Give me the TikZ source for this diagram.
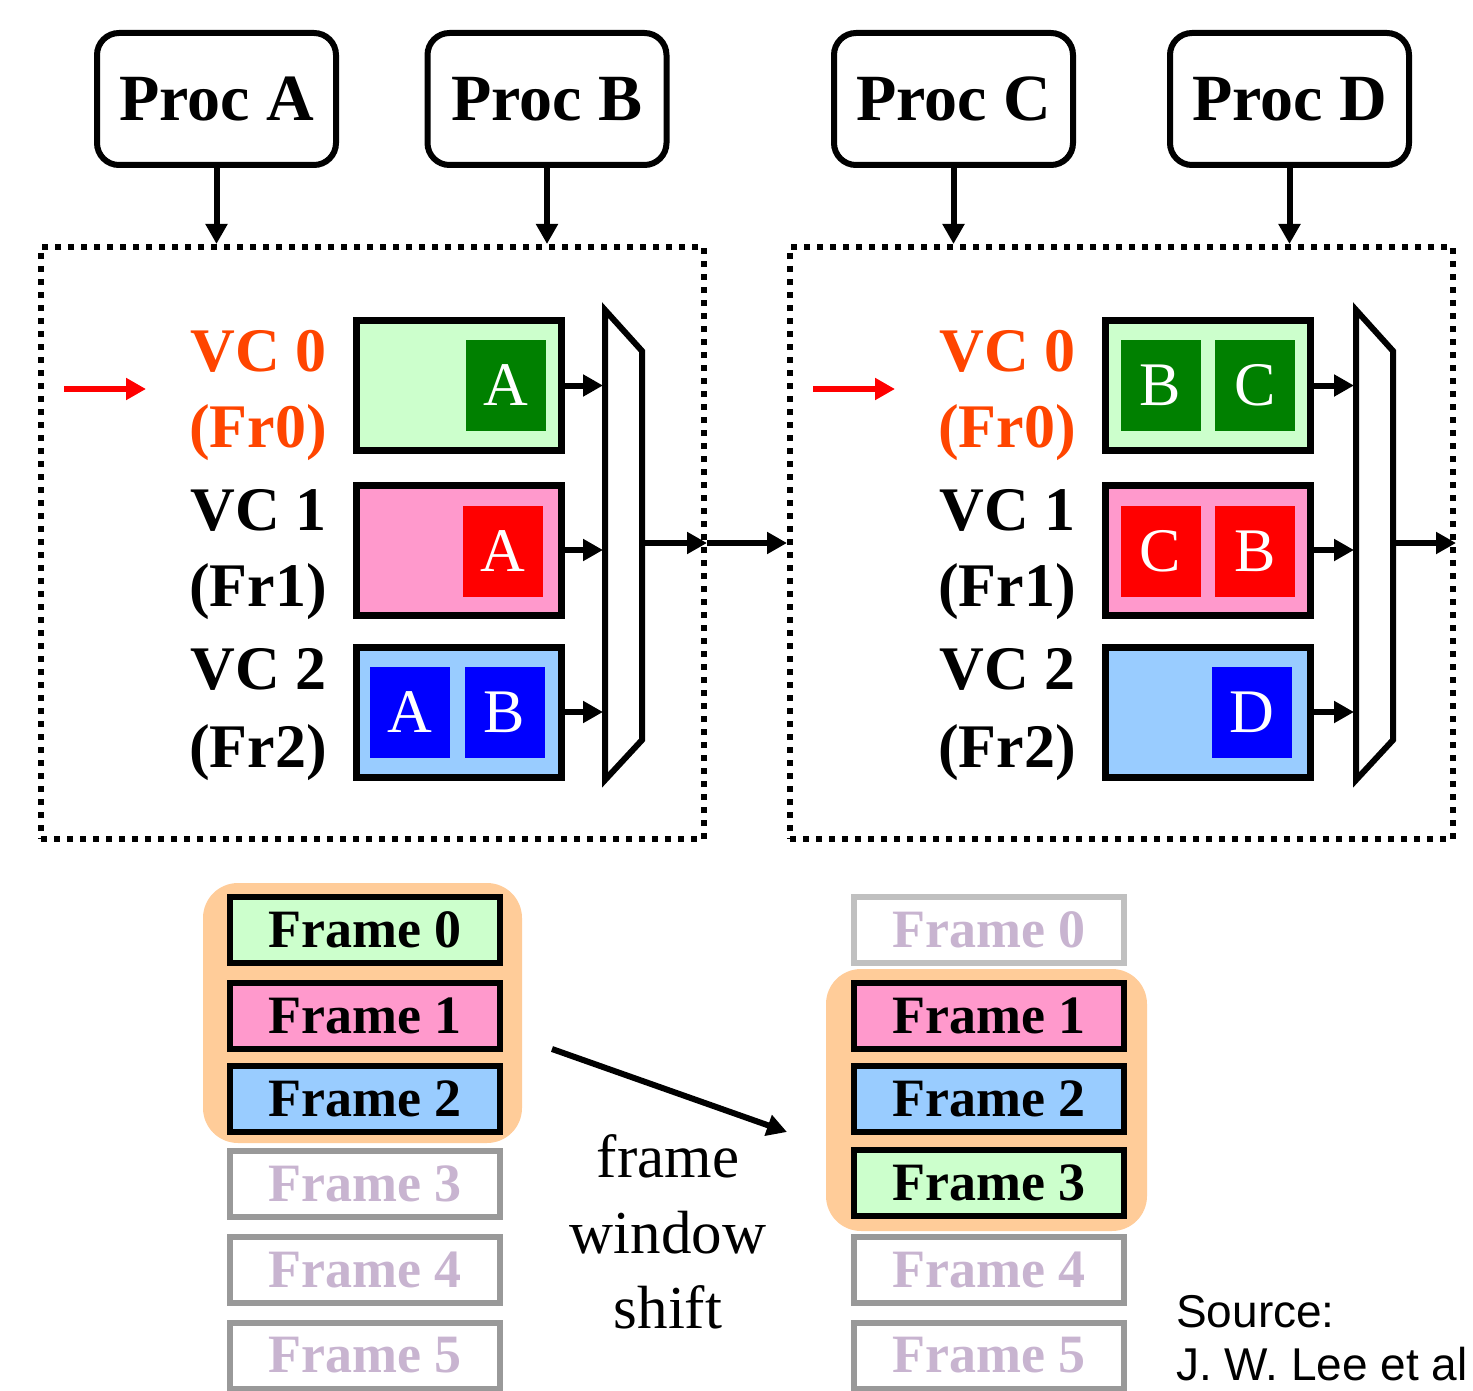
\documentclass[tikz,border=0pt]{standalone}
\usepackage{fontspec}
\setmainfont{Liberation Serif}
\newfontfamily\srcfont{Liberation Sans}
\usetikzlibrary{arrows.meta}
\definecolor{lgreen}{HTML}{CCFFCC}
\definecolor{dgreen}{HTML}{008000}
\definecolor{lpink}{HTML}{FF99CC}
\definecolor{lblue}{HTML}{99CCFF}
\definecolor{vcorange}{HTML}{FF4500}
\definecolor{winorange}{HTML}{FFCC99}
\definecolor{fadegray}{HTML}{999999}
\definecolor{fadegrayl}{HTML}{C0C0C0}
\definecolor{fadetext}{HTML}{C8B4D0}
\begin{document}
\begin{tikzpicture}[x=1pt,y=-1pt,
 proc/.style={draw, line width=6pt, rounded corners=22pt, minimum width=239pt, minimum height=132pt, font=\fontsize{66}{70}\selectfont\bfseries, inner sep=0pt},
 panel/.style={draw, line width=6pt, dash pattern=on 6pt off 7pt, minimum width=663pt, minimum height=592pt, inner sep=0pt},
 buf/.style={draw, line width=7pt, minimum width=205pt, minimum height=130pt, inner sep=0pt},
 cell/.style={minimum width=80pt, minimum height=91pt, inner sep=0pt, text=white, font=\fontsize{62}{62}\selectfont},
 vclab/.style={anchor=base east, inner sep=0pt, font=\fontsize{62}{62}\selectfont\bfseries},
 arr/.style={line width=6pt, -{Triangle[length=20pt,width=21pt]}},
 redarr/.style={line width=6pt, red, -{Triangle[length=20pt,width=21pt]}},
 frm/.style={draw, line width=6pt, minimum width=270pt, minimum height=66pt, inner sep=0pt, font=\fontsize{54}{54}\selectfont\bfseries},
 frmfade/.style={frm, draw=fadegray, line width=6pt, fill=white, text=fadetext},
 win/.style={fill=winorange, rounded corners=35pt},
 mux/.style={draw, line width=6pt, fill=white, line join=miter},
 fws/.style={anchor=base, inner sep=0pt, font=\fontsize{61}{61}\selectfont},
 src/.style={anchor=base west, inner sep=0pt, font=\srcfont\fontsize{46}{46}\selectfont}
]
\clip (0,0) rectangle (1473,1391);
\fill[white] (0,0) rectangle (1473,1391);

% processors
\node[proc] (pA) at (216.5,99) {Proc A};
\node[proc] (pB) at (547,99) {Proc B};
\node[proc] (pC) at (953.5,99) {Proc C};
\node[proc] (pD) at (1289.5,99) {Proc D};

% panels
\node[panel] (lp) at (372.5,543) {};
\node[panel] (rp) at (1121.5,543) {};

\draw[arr] (pA.south) -- (pA.south |- lp.north);
\draw[arr] (pB.south) -- (pB.south |- lp.north);
\draw[arr] (pC.south) -- (pC.south |- rp.north);
\draw[arr] (pD.south) -- (pD.south |- rp.north);

% left router buffers
\node[buf, fill=lgreen] (l0) at (459,385.5) {};
\node[buf, fill=lpink] (l1) at (459,550) {};
\node[buf, fill=lblue] (l2) at (459,712) {};
\node[cell, fill=dgreen] (l0a) at (506,385) {A};
\node[cell, fill=red] (l1a) at (502.5,551.5) {A};
\node[cell, fill=blue] (l2a) at (410,712.5) {A};
\node[cell, fill=blue] (l2b) at (504.5,712.5) {B};

% right router buffers
\node[buf, fill=lgreen] (r0) at (1207.5,385.5) {};
\node[buf, fill=lpink] (r1) at (1207.5,550) {};
\node[buf, fill=lblue] (r2) at (1207.5,712) {};
\node[cell, fill=dgreen] (r0b) at (1160.5,385) {B};
\node[cell, fill=dgreen] (r0c) at (1255,385) {C};
\node[cell, fill=red] (r1c) at (1160.5,551.5) {C};
\node[cell, fill=red] (r1b) at (1255,551.5) {B};
\node[cell, fill=blue] (r2d) at (1251.5,712.5) {D};

% VC labels
\node[vclab, text=vcorange] (lv0) at (327,371) {VC 0};
\node[vclab, text=vcorange] (lf0) at (327,447) {(Fr0)};
\node[vclab] (lv1) at (327,530) {VC 1};
\node[vclab] (lf1) at (327,606) {(Fr1)};
\node[vclab] (lv2) at (327,689) {VC 2};
\node[vclab] (lf2) at (327,767) {(Fr2)};
\node[vclab, text=vcorange] (rv0) at (1076,371) {VC 0};
\node[vclab, text=vcorange] (rf0) at (1076,447) {(Fr0)};
\node[vclab] (rv1) at (1076,530) {VC 1};
\node[vclab] (rf1) at (1076,606) {(Fr1)};
\node[vclab] (rv2) at (1076,689) {VC 2};
\node[vclab] (rf2) at (1076,767) {(Fr2)};

% muxes
\draw[mux] (605,310) -- (642,351) -- (642,740) -- (605,780) -- cycle;
\draw[mux] (1356,310) -- (1393,351) -- (1393,740) -- (1356,780) -- cycle;
\coordinate (lmi) at (603,543);
\coordinate (lmo) at (642,543);
\coordinate (rmi) at (1354,543);
\coordinate (rmo) at (1393,543);

\draw[arr] (l0.east) -- (l0.east -| lmi);
\draw[arr] (l1.east) -- (l1.east -| lmi);
\draw[arr] (l2.east) -- (l2.east -| lmi);
\draw[arr] (r0.east) -- (r0.east -| rmi);
\draw[arr] (r1.east) -- (r1.east -| rmi);
\draw[arr] (r2.east) -- (r2.east -| rmi);
\draw[arr] (lmo) -- (lp.east);
\draw[arr] (lp.east) -- (rp.west);
\draw[arr] (rmo) -- (rp.east);

% red pointer arrows
\coordinate (lr1) at (64,389);
\coordinate (lr2) at (146,389);
\coordinate (rr1) at (813,389);
\coordinate (rr2) at (895,389);
\draw[redarr] (lr1) -- (lr2);
\draw[redarr] (rr1) -- (rr2);

% frame windows
\fill[win] (203,883) rectangle (522,1143);
\fill[win] (826,969) rectangle (1147,1231);

\node[frm, fill=lgreen] (lF0) at (365,930) {Frame 0};
\node[frm, fill=lpink] (lF1) at (365,1016) {Frame 1};
\node[frm, fill=lblue] (lF2) at (365,1099) {Frame 2};
\node[frmfade] (lF3) at (365,1184) {Frame 3};
\node[frmfade] (lF4) at (365,1269.5) {Frame 4};
\node[frmfade] (lF5) at (365,1355.5) {Frame 5};

\node[frmfade, draw=fadegrayl] (rF0) at (989,930) {Frame 0};
\node[frm, fill=lpink] (rF1) at (989,1016) {Frame 1};
\node[frm, fill=lblue] (rF2) at (989,1099) {Frame 2};
\node[frm, fill=lgreen] (rF3) at (989,1183) {Frame 3};
\node[frmfade] (rF4) at (989,1269.5) {Frame 4};
\node[frmfade] (rF5) at (989,1355.5) {Frame 5};

% shift arrow and label
\coordinate (fs1) at (552,1049);
\coordinate (fs2) at (787,1132);
\draw[arr] (fs1) -- (fs2);
\node[fws] (fw1) at (668,1177) {frame};
\node[fws] (fw2) at (668,1253) {window};
\node[fws] (fw3) at (668,1328) {shift};

% source
\node[src] (s1) at (1176,1327) {Source:};
\node[src] (s2) at (1176,1380) {J. W. Lee et al};
\end{tikzpicture}
\end{document}
